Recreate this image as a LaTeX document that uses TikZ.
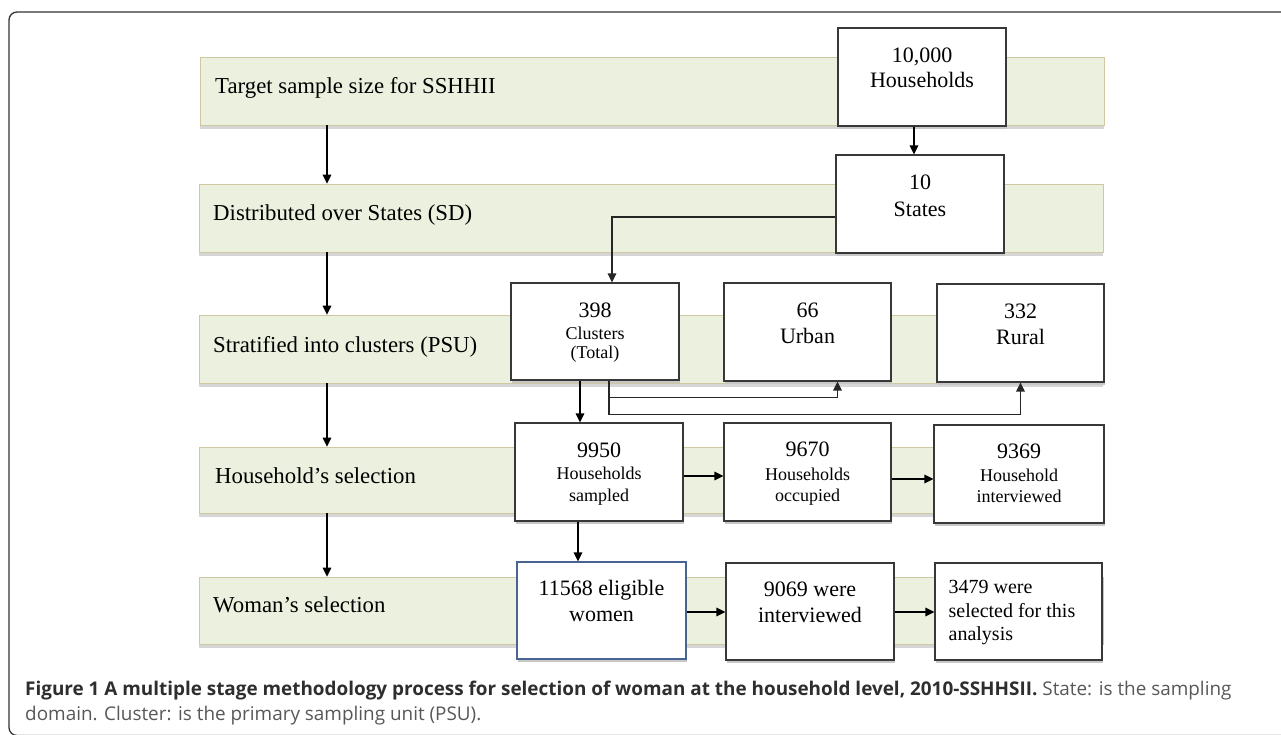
\documentclass[tikz,border=0pt]{standalone}
\usepackage{fontspec}
\setmainfont{Liberation Serif}
\newfontfamily\capfont{Open Sans}
\usetikzlibrary{arrows.meta,positioning,shadows}
\definecolor{barfill}{HTML}{EBF1DE}
\definecolor{barline}{HTML}{CEC7A0}
\definecolor{boxline}{HTML}{383838}
\definecolor{boxblue}{HTML}{4A6491}
\definecolor{capdark}{HTML}{2E2E2E}
\definecolor{capgrey}{HTML}{585858}
\newcommand\smalltxt{\fontsize{18}{20}\selectfont}

\begin{document}
\begin{tikzpicture}[x=1pt,y=-1pt,line join=miter,>={Triangle[length=9pt,width=8.5pt]}]
  \tikzset{
    stagebar/.style={draw=barline,fill=barfill,line width=0.8pt,minimum width=904pt,inner sep=0pt,
      drop shadow={shadow xshift=0pt,shadow yshift=-3.5pt,fill=black!16,opacity=1}},
    stagetext/.style={inner sep=0pt,font=\fontsize{22.8}{26}\selectfont,anchor=base west},
    countbox/.style={draw=boxline,fill=white,line width=1.1pt,inner sep=0pt,minimum width=168pt,minimum height=98pt,
      drop shadow={shadow xshift=0.5pt,shadow yshift=-3pt,fill=black!22,opacity=1}},
    counttext/.style={inner sep=0pt,align=center,font=\fontsize{22}{25}\selectfont},
    arr/.style={->,line width=1.6pt,black},
    forkline/.style={->,line width=1.3pt,draw=black!85},
    captext/.style={inner sep=0pt,anchor=base west,font=\capfont\fontsize{18.9}{22}\selectfont},
  }
  \fill[white] (0,0) rectangle (1281,734);
  \useasboundingbox (0,0) rectangle (1281,734);

  % ==================== frame ====================
  \begin{scope}
    \clip (0,0) rectangle (1281,734);
    \draw[line width=1.3pt,black!80,rounded corners=8pt] (9,12) rectangle (1300,735.5);
  \end{scope}

  % ==================== stages ====================
  \node[stagebar,minimum height=68pt] (bar1) at (652,91) {};
  \node[stagebar,minimum height=68pt] (bar2) at (651,218) {};
  \node[stagebar,minimum height=68pt] (bar3) at (651,349) {};
  \node[stagebar,minimum height=66pt] (bar4) at (651,480) {};
  \node[stagebar,minimum height=67pt] (bar5) at (651,610.5) {};

  \node[stagetext] (lab1) at (215,93) {Target sample size for SSHHII};
  \node[stagetext] (lab2) at (213,220) {Distributed over States (SD)};
  \node[stagetext] (lab3) at (213,352) {Stratified into clusters (PSU)};
  \node[stagetext] (lab4) at (215,483) {Household’s selection};
  \node[stagetext] (lab5) at (213,612) {Woman’s selection};

  % down arrows on the left
  \coordinate (lx) at (327,0);
  \draw[arr] (bar1.south -| lx) -- (bar2.north -| lx);
  \draw[arr] (bar2.south -| lx) -- (bar3.north -| lx);
  \draw[arr] (bar3.south -| lx) -- (bar4.north -| lx);
  \draw[arr] (bar4.south -| lx) -- (bar5.north -| lx);

  % ==================== counts ====================
  \node[countbox] (hh10k) at (922,77) {};
  \node[counttext,below=20pt of hh10k.north] (hh10ktxt) {10,000\\Households};

  \node[countbox] (states) at (920,204) {};
  \node[counttext,font=\fontsize{22}{27}\selectfont,below=20pt of states.north] (statestxt) {10\\States};

  \node[countbox,minimum height=97pt] (clusters) at (595,331.5) {};
  \node[counttext,font=\fontsize{22}{19}\selectfont,below=20pt of clusters.north] (clusterstxt)
    {398\\[3pt]{\smalltxt Clusters}\\{\smalltxt (Total)}};

  \node[countbox,minimum width=167pt] (urban) at (807.5,332) {};
  \node[counttext,font=\fontsize{22}{26}\selectfont,below=20pt of urban.north] (urbantxt) {66\\Urban};

  \node[countbox,minimum width=167pt] (rural) at (1020.5,333) {};
  \node[counttext,font=\fontsize{22}{26}\selectfont,below=20pt of rural.north] (ruraltxt) {332\\Rural};

  \node[countbox] (sampled) at (599,472) {};
  \node[counttext,font=\fontsize{22}{22}\selectfont,below=20pt of sampled.north] (sampledtxt)
    {9950\\{\smalltxt Households}\\{\smalltxt sampled}};

  \node[countbox,minimum width=167pt] (occupied) at (807.5,472) {};
  \node[counttext,font=\fontsize{22}{21}\selectfont,below=19pt of occupied.north] (occupiedtxt)
    {9670\\[3pt]{\smalltxt Households}\\{\smalltxt occupied}};

  \node[countbox,minimum width=170pt] (hhint) at (1019,474) {};
  \node[counttext,font=\fontsize{22}{21}\selectfont,below=19pt of hhint.north] (hhinttxt)
    {9369\\[2pt]{\smalltxt Household}\\{\smalltxt interviewed}};

  \node[countbox,draw=boxblue,minimum width=169pt,minimum height=97pt] (eligible) at (601.5,610.5) {};
  \node[counttext,font=\fontsize{22}{26}\selectfont,below=19pt of eligible.north] (eligibletxt) {11568 eligible\\women};

  \node[countbox,minimum height=97pt] (womint) at (810,611.5) {};
  \node[counttext,font=\fontsize{22}{26}\selectfont,below=19pt of womint.north] (wominttxt) {9069 were\\interviewed};

  \node[countbox,minimum width=167pt,minimum height=97pt] (analysis) at (1018.5,611.5) {};
  \node[counttext,align=left,font=\fontsize{20}{23.5}\selectfont,anchor=north west] (analysistxt)
    at ([xshift=14pt,yshift=-18pt]analysis.north west) {3479 were\\selected for this\\analysis};

  % ==================== connectors ====================
  \draw[arr] ([xshift=-8pt]hh10k.south) -- ([xshift=-8pt]hh10k.south |- states.north);
  \draw[forkline] ([yshift=-13pt]states.west) -| ([xshift=17pt]clusters.north);
  \draw[forkline] ([xshift=14pt]clusters.south) |- ([xshift=30pt,yshift=-16pt]urban.south) -- ([xshift=30pt]urban.south);
  \draw[forkline] ([xshift=14pt]clusters.south) |- ([yshift=-32pt]rural.south) -- (rural.south);
  \draw[arr] ([xshift=-15pt]clusters.south) -- ([xshift=-15pt]clusters.south |- sampled.north);
  \draw[arr] ([yshift=-4pt]sampled.east) -- ([yshift=-4pt]sampled.east -| occupied.west);
  \draw[arr] ([yshift=-7pt]occupied.east) -- ([yshift=-7pt]occupied.east -| hhint.west);
  \draw[arr] ([xshift=-21pt]sampled.south) -- ([xshift=-21pt]sampled.south |- eligible.north);
  \draw[arr] ([yshift=-1.5pt]eligible.east) -- ([yshift=-1.5pt]eligible.east -| womint.west);
  \draw[arr] ([yshift=-0.5pt]womint.east) -- ([yshift=-0.5pt]womint.east -| analysis.west);

  % ==================== caption ====================
  \node[captext] (cap1) at (25,695) {{\color{capdark}\bfseries Figure 1 A multiple stage methodology process for selection of woman at the household level, 2010-SSHHSII.} {\color{capgrey}State: is the sampling}};
  \node[captext,text=capgrey] (cap2) at (25,720) {domain. Cluster: is the primary sampling unit (PSU).};
\end{tikzpicture}
\end{document}
